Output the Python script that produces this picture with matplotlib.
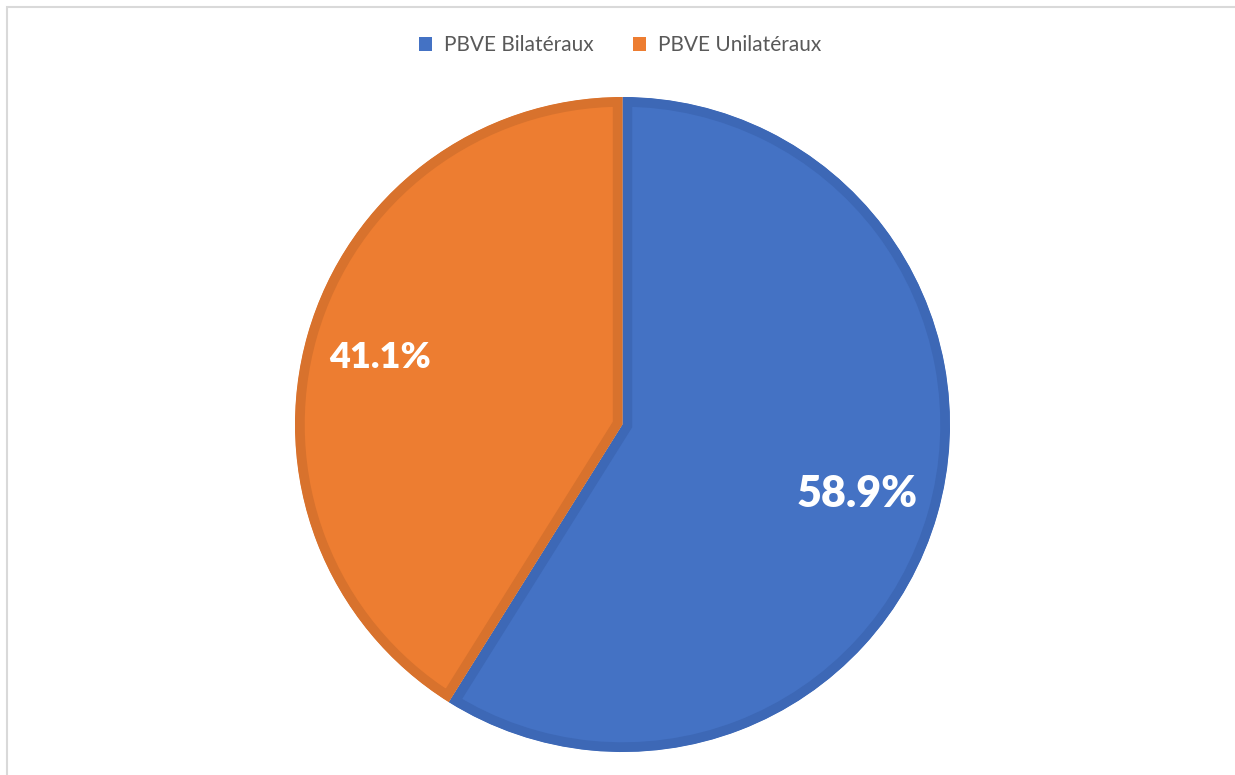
import matplotlib
matplotlib.use("Agg")
import matplotlib.pyplot as plt
from matplotlib.patches import Patch, Rectangle

labels = ["PBVE Bilatéraux", "PBVE Unilatéraux"]
values = [58.9, 41.1]
face_colors = ["#4472C4", "#ED7D31"]
edge_colors = ["#3D68B6", "#D8722D"]
label_sizes = [31, 26]

W, H = 1235, 775
fig = plt.figure(figsize=(W / 100, H / 100), dpi=100)
ax = fig.add_axes([0, 0, 1, 1])
ax.set_xlim(0, W)
ax.set_ylim(0, H)
ax.set_aspect("equal")
ax.axis("off")

# frame
ax.add_patch(Rectangle((7, -10), W, H - 7 + 10, fill=False, edgecolor="#D9D9D9", linewidth=1.5))

cx, cy, r = 622.5, H - 424.5, 327.5
wedges, texts, autotexts = ax.pie(
    values, colors=face_colors, startangle=90, counterclock=False,
    center=(cx, cy), radius=r, frame=True,
    autopct=lambda p: f"{p:.1f}%", pctdistance=0.78,
    wedgeprops=dict(linewidth=14, joinstyle="miter"),
)
for w, ec in zip(wedges, edge_colors):
    w.set_edgecolor(ec)
    w.set_clip_on(True)
    w.set_clip_box(None)
    w.set_clip_path(w)
ax.set_xlim(0, W)
ax.set_ylim(0, H)
ax.axis("off")

positions = [(857, H - 494), (380, H - 357)]
for t, pos, fs in zip(autotexts, positions, label_sizes):
    t.set_position(pos)
    t.set_color("white")
    t.set_fontweight("heavy")
    t.set_fontsize(fs)
    t.set_family("Lato")
    t.set_ha("center")
    t.set_va("center")

handles = [Patch(facecolor=c, edgecolor="none") for c in face_colors]
leg = fig.legend(handles, labels, loc="center", bbox_to_anchor=(0.502, 1 - 45 / H),
                 ncol=2, frameon=False, prop={"family": "Lato", "size": 15},
                 handlelength=0.65, handleheight=0.65, handletextpad=0.55, columnspacing=1.9,
                 labelcolor="#595959")

fig.savefig("out.png", dpi=100)
